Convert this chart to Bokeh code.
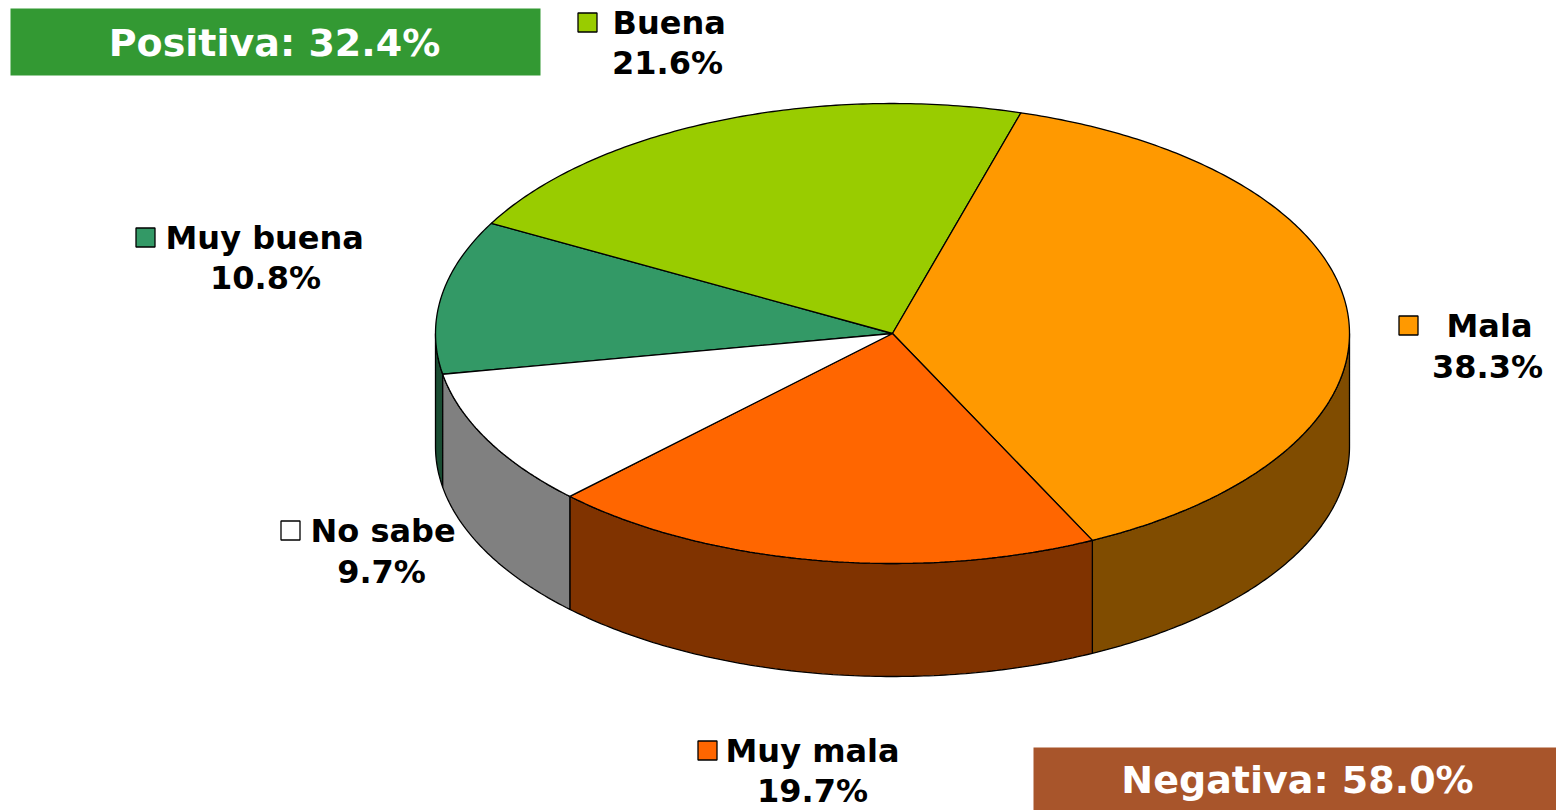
import math
from bokeh.plotting import figure
from bokeh.models import Range1d
from bokeh.core.properties import value
from bokeh.embed import file_html
from bokeh.resources import INLINE

# ---- data ----
categories = ["Muy buena", "Buena", "Mala", "Muy mala", "No sabe"]
percents = [10.8, 21.6, 38.3, 19.7, 9.7]
top_colors = ["#339966", "#99CC00", "#FF9900", "#FF6600", "#FFFFFF"]
side_colors = ["#1A4D33", "#4D6600", "#804C00", "#803300", "#808080"]
pct_labels = ["10.8%", "21.6%", "38.3%", "19.7%", "9.7%"]
summary_labels = ["Positiva: 32.4%", "Negativa: 58.0%"]
summary_colors = ["#339933", "#A8552B"]

# ---- layout (screen-pixel coordinates) ----
W, H = 1556, 810
CX, CY, RX, RY, DEPTH = 892.0, 333.0, 457.0, 230.0, 113.0
START = 190.2  # degrees, slices run clockwise
label_pos = {  # square-left x, line1 y, percent centre x, line2 y
    "Muy buena": (135, 237, 265, 277),
    "Buena": (577, 22, 667, 62),
    "Mala": (1398, 325, 1487, 366),
    "Muy mala": (697, 750, 812, 790),
    "No sabe": (280, 530, 381, 571),
}
label_gap = {"Muy buena": 30, "Buena": 35, "Mala": 48, "Muy mala": 28, "No sabe": 30}
boxes = [(10, 540, 8, 75, 274), (1033, 1556, 747, 810, 1297)]

p = figure(width=W, height=H, output_backend="svg", toolbar_location=None,
           x_range=Range1d(0, W), y_range=Range1d(H, 0),
           min_border=0, outline_line_color=None)
p.axis.visible = False
p.grid.visible = False
p.background_fill_color = "white"
p.border_fill_color = "white"


def pt(t, dy=0.0):
    r = math.radians(t)
    return CX + RX * math.cos(r), CY - RY * math.sin(r) + dy


def arc(a, b, dy=0.0, n=None):
    if n is None:
        n = max(4, int(abs(b - a) * 1.5))
    return [pt(a + (b - a) * i / n, dy) for i in range(n + 1)]


# compute slice angle spans from the data
total = sum(percents)
spans = []
cur = START
for v in percents:
    sweep = 360.0 * v / total
    spans.append((cur - sweep, cur))
    cur -= sweep

# side walls (front half only: angles in [-180, 0] mod 360)
side_xs, side_ys, side_c = [], [], []
for (lo, hi), c in zip(spans, side_colors):
    for k in (-1, 0, 1):
        a = max(lo, -180 + 360 * k)
        b = min(hi, 0 + 360 * k)
        if b - a > 0.01:
            pts = arc(b, a) + arc(a, b, DEPTH)
            side_xs.append([q[0] for q in pts])
            side_ys.append([q[1] for q in pts])
            side_c.append(c)
p.patches(side_xs, side_ys, fill_color=side_c, line_color="black", line_width=1.3)

# top faces
top_xs, top_ys = [], []
for lo, hi in spans:
    pts = [(CX, CY)] + arc(hi, lo)
    top_xs.append([q[0] for q in pts])
    top_ys.append([q[1] for q in pts])
p.patches(top_xs, top_ys, fill_color=top_colors, line_color="black", line_width=1.3)

# labels
sq_x, sq_y, n_x, n_y, pc_x, pc_y = [], [], [], [], [], []
for cat in categories:
    sx, y1, px, y2 = label_pos[cat]
    sq_x.append(sx + 10)
    sq_y.append(y1)
    n_x.append(sx + label_gap[cat])
    n_y.append(y1)
    pc_x.append(px)
    pc_y.append(y2)
p.rect(sq_x, sq_y, width=19, height=19, fill_color=top_colors, line_color="black", line_width=1.3)
p.text(n_x, n_y, text=categories, text_font=value("DejaVu Sans"), text_font_style="bold",
       text_font_size="32px", text_baseline="middle", text_align="left", text_color="black")
p.text(pc_x, pc_y, text=pct_labels, text_font=value("DejaVu Sans"), text_font_style="bold",
       text_font_size="32px", text_baseline="middle", text_align="center", text_color="black")

# summary boxes
for (x0, x1, y0, y1, tx), lab, col in zip(boxes, summary_labels, summary_colors):
    p.quad(left=x0, right=x1, top=y0, bottom=y1, fill_color=col, line_color=None)
    p.text([tx], [(y0 + y1) / 2 + 1], text=[lab],
           text_font=value("DejaVu Sans"), text_font_style="bold", text_font_size="38px",
           text_baseline="middle", text_align="center", text_color="white")

open("out.html", "w").write(file_html(p, INLINE))
